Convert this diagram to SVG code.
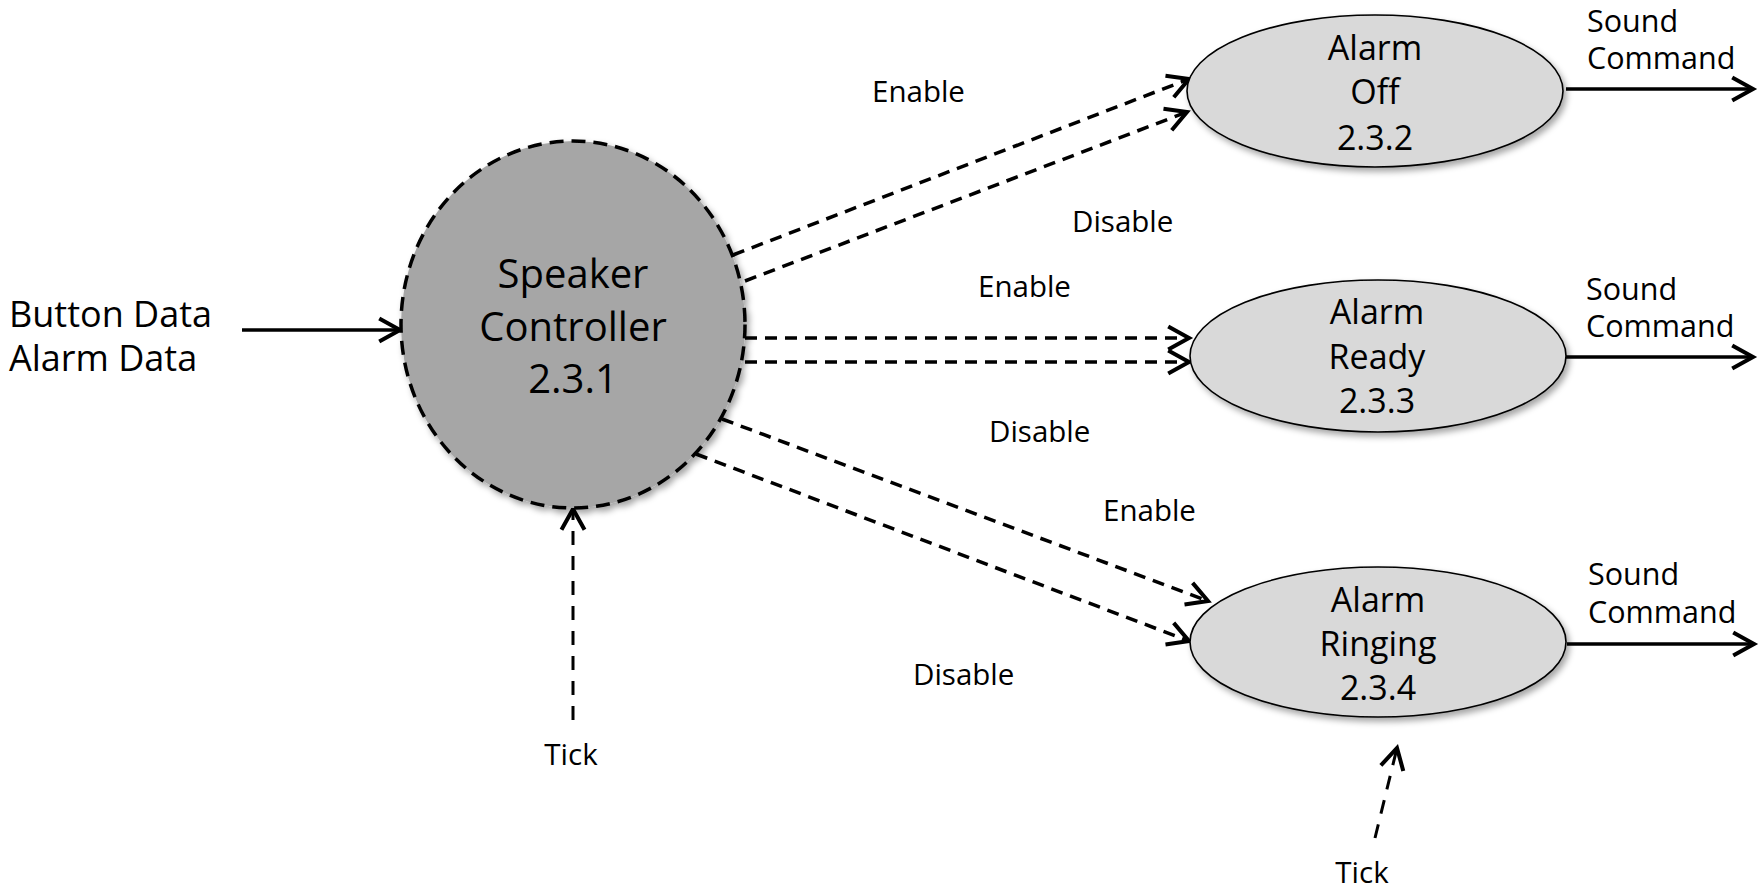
<svg xmlns="http://www.w3.org/2000/svg" width="1759" height="889" viewBox="0 0 1759 889">
<style>
text{font-family:"Open Sans","Noto Sans","DejaVu Sans",sans-serif;fill:#000;}
.big{font-size:40px;text-anchor:middle;}
.mid{font-size:34px;text-anchor:middle;}
.in{font-size:36px;}
.lbl{font-size:29.5px;}
.snd{font-size:30.5px;}
.proc{fill:#d9d9d9;stroke:#000;stroke-width:1.6;}
.ctrl{fill:#a6a6a6;stroke:#000;stroke-width:3.5;stroke-dasharray:14 8;}
.dash{fill:none;stroke:#000;stroke-width:3.5;stroke-dasharray:12 8;marker-end:url(#arr);}
.tick{fill:none;stroke:#000;stroke-width:3;stroke-dasharray:14 11;marker-end:url(#arr);}
.solid{fill:none;stroke:#000;stroke-width:3.5;marker-end:url(#arr);}
</style>
<defs>
<marker id="arr" markerUnits="userSpaceOnUse" markerWidth="30" markerHeight="30" viewBox="-22 -12 26 24" refX="0" refY="0" orient="auto">
<path d="M -18 -10 L 0 0 L -18 10" fill="none" stroke="#000" stroke-width="3.5" stroke-linejoin="miter"/>
</marker>
<filter id="sh" x="-20%" y="-20%" width="140%" height="140%">
<feDropShadow dx="3" dy="4" stdDeviation="3" flood-color="#000" flood-opacity="0.35"/>
</filter>
</defs>
<rect width="1759" height="889" fill="#fff"/>

<g id="connectors">
<line class="dash" x1="733" y1="255" x2="1189" y2="79"/>
<line class="dash" x1="745" y1="281" x2="1187" y2="112"/>
<line class="dash" x1="745" y1="338" x2="1189" y2="338"/>
<line class="dash" x1="745" y1="362" x2="1189" y2="362"/>
<line class="dash" x1="722" y1="419" x2="1208" y2="601"/>
<line class="dash" x1="696" y1="454" x2="1189" y2="641"/>
<line class="tick" x1="573" y1="720" x2="573" y2="509"/>
<line class="tick" x1="1375" y1="838" x2="1397" y2="748"/>
<line class="solid" x1="242" y1="330" x2="400" y2="330"/>
<line class="solid" x1="1566" y1="89" x2="1753" y2="89"/>
<line class="solid" x1="1566" y1="357" x2="1753" y2="357"/>
<line class="solid" x1="1567" y1="644" x2="1754" y2="644"/>
</g>

<g id="speaker-controller">
<ellipse class="ctrl" cx="573" cy="324.5" rx="172" ry="183.5" filter="url(#sh)"/>
<text class="big" x="573" y="288">Speaker</text>
<text class="big" x="573" y="341">Controller</text>
<text class="big" x="573" y="393">2.3.1</text>
</g>

<g id="alarm-off">
<ellipse class="proc" cx="1375" cy="91" rx="188" ry="76" filter="url(#sh)"/>
<text class="mid" x="1375" y="60">Alarm</text>
<text class="mid" x="1375" y="104">Off</text>
<text class="mid" x="1375" y="150">2.3.2</text>
</g>

<g id="alarm-ready">
<ellipse class="proc" cx="1378" cy="356" rx="188" ry="76" filter="url(#sh)"/>
<text class="mid" x="1377" y="324">Alarm</text>
<text class="mid" x="1377" y="369">Ready</text>
<text class="mid" x="1377" y="413">2.3.3</text>
</g>

<g id="alarm-ringing">
<ellipse class="proc" cx="1378" cy="642" rx="188" ry="75" filter="url(#sh)"/>
<text class="mid" x="1378" y="612">Alarm</text>
<text class="mid" x="1378" y="656">Ringing</text>
<text class="mid" x="1378" y="700">2.3.4</text>
</g>

<g id="labels">
<text class="in" x="9" y="327">Button Data</text>
<text class="in" x="9" y="371">Alarm Data</text>
<text class="lbl" x="872" y="102">Enable</text>
<text class="lbl" x="1072" y="232">Disable</text>
<text class="lbl" x="978" y="297">Enable</text>
<text class="lbl" x="989" y="442">Disable</text>
<text class="lbl" x="1103" y="521">Enable</text>
<text class="lbl" x="913" y="685">Disable</text>
<text class="lbl" x="571" y="765" text-anchor="middle">Tick</text>
<text class="lbl" x="1362" y="883" text-anchor="middle">Tick</text>
<text class="snd" x="1587" y="32">Sound</text>
<text class="snd" x="1587" y="69">Command</text>
<text class="snd" x="1586" y="300">Sound</text>
<text class="snd" x="1586" y="337">Command</text>
<text class="snd" x="1588" y="585">Sound</text>
<text class="snd" x="1588" y="623">Command</text>
</g>
</svg>
